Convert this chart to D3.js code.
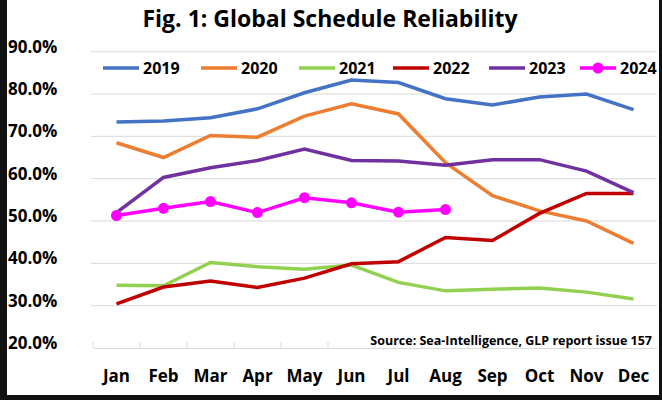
<!DOCTYPE html>
<html><head><meta charset="utf-8">
<script src="https://cdn.jsdelivr.net/npm/d3@7"></script>
<style>body{margin:0;background:#fff}svg{display:block;font-family:"Open Sans",Calibri,sans-serif}</style>
</head><body>
<script>
var months = ["Jan","Feb","Mar","Apr","May","Jun","Jul","Aug","Sep","Oct","Nov","Dec"];
var yTicks = [20,30,40,50,60,70,80,90];
var v2019 = [73.4,73.6,74.4,76.5,80.3,83.3,82.7,78.9,77.4,79.3,80.0,76.3];
var v2020 = [68.5,65.0,70.2,69.8,74.8,77.7,75.3,63.8,56.0,52.4,50.0,44.7];
var v2021 = [34.8,34.7,40.2,39.2,38.6,39.6,35.5,33.5,33.9,34.2,33.2,31.6];
var v2022 = [30.4,34.4,35.8,34.3,36.5,39.9,40.4,46.1,45.4,51.8,56.5,56.5];
var v2023 = [52.0,60.3,62.6,64.3,67.0,64.3,64.2,63.2,64.5,64.5,61.8,56.7];
var v2024 = [51.3,53.0,54.6,52.0,55.5,54.3,52.1,52.7];
var series = [
  {name:"2019", values:v2019, color:"#4472c4"},
  {name:"2020", values:v2020, color:"#ed7d31"},
  {name:"2021", values:v2021, color:"#92d050"},
  {name:"2022", values:v2022, color:"#c00000"},
  {name:"2023", values:v2023, color:"#7030a0"},
  {name:"2024", values:v2024, color:"#ff00ff", dots:true}
];

var svg = d3.select("body").append("svg").attr("width",662).attr("height",400);
svg.append("rect").attr("width",662).attr("height",400).attr("fill","#111");
svg.append("rect").attr("x",7).attr("y",0).attr("width",652).attr("height",395).attr("fill","#fff");

var x = d3.scaleBand().domain(months).range([93,657]);
var y = d3.scaleLinear().domain([20,90]).range([348,51.7]);

svg.append("text").attr("x",330).attr("y",27).attr("text-anchor","middle")
  .attr("font-size",23).attr("font-weight","bold").text("Fig. 1: Global Schedule Reliability");

svg.selectAll(".grid").data(yTicks.slice(1)).enter().append("line")
  .attr("x1",91).attr("x2",657).attr("y1",d=>y(d)).attr("y2",d=>y(d))
  .attr("stroke","#d9d9d9").attr("stroke-width",1);

var xa = svg.append("g").attr("transform","translate(0,348)")
  .call(d3.axisBottom(x).tickSizeInner(0).tickSizeOuter(0).tickPadding(22));
xa.select(".domain").attr("stroke","#d9d9d9");
xa.selectAll("text").attr("font-size",17).attr("font-weight","bold").attr("fill","#000").attr("font-family","Open Sans");
svg.selectAll(".xt").data(months).enter().append("line")
  .attr("x1",d=>x(d)).attr("x2",d=>x(d)).attr("y1",348).attr("y2",342).attr("stroke","#d9d9d9");

svg.selectAll(".yl").data(yTicks).enter().append("text")
  .attr("x",8).attr("y",d=>y(d)+1).attr("font-size",17).attr("font-weight","bold")
  .text(d=>d.toFixed(1)+"%");

var line = d3.line().x((d,i)=>x(months[i])+x.bandwidth()/2).y(d=>y(d));
series.forEach(function(s){
  svg.append("path").datum(s.values).attr("d",line).attr("fill","none")
    .attr("stroke",s.color).attr("stroke-width",3.5);
  if (s.dots) svg.selectAll(".dot"+s.name).data(s.values).enter().append("circle")
    .attr("cx",(d,i)=>x(months[i])+x.bandwidth()/2).attr("cy",d=>y(d)).attr("r",5.5).attr("fill",s.color);
});

var lx = [103,201,299,393,489,580];
series.forEach(function(s,i){
  svg.append("line").attr("x1",lx[i]).attr("x2",lx[i]+36).attr("y1",68).attr("y2",68)
    .attr("stroke",s.color).attr("stroke-width",3.5);
  if (s.dots) svg.append("circle").attr("cx",lx[i]+18).attr("cy",68).attr("r",5.5).attr("fill",s.color);
  svg.append("text").attr("x",lx[i]+40).attr("y",74).attr("font-size",16).attr("font-weight","bold").text(s.name);
});

svg.append("text").attr("x",652).attr("y",345).attr("text-anchor","end")
  .attr("font-size",12.5).attr("font-weight","bold").text("Source: Sea-Intelligence, GLP report issue 157");
</script>
</body></html>
